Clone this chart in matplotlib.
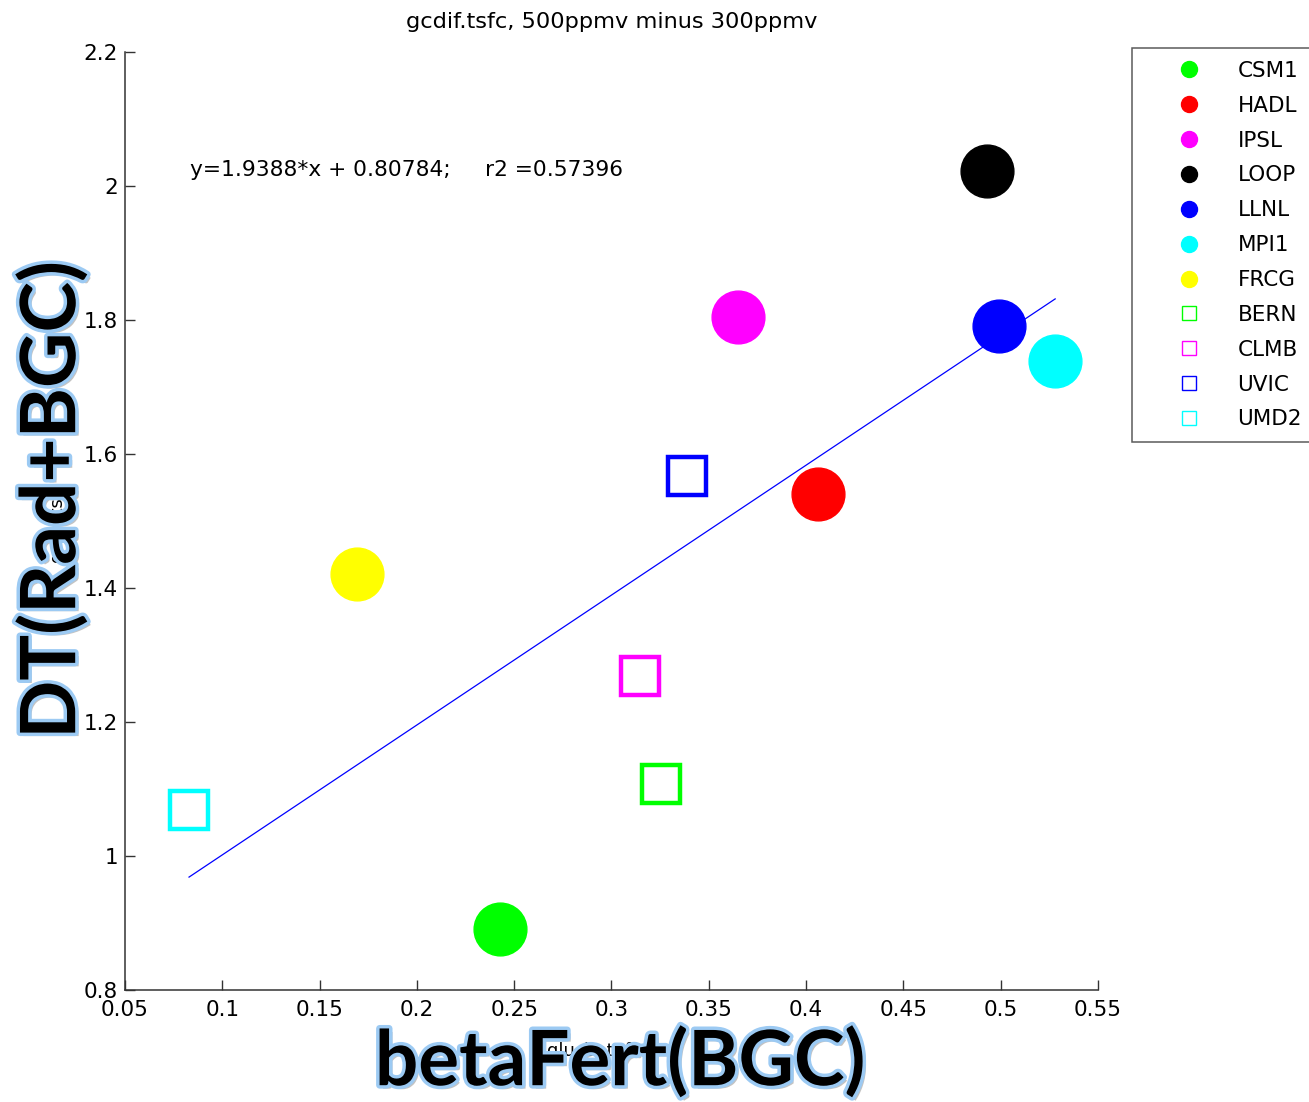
import numpy as np
import matplotlib
matplotlib.use('Agg')
import matplotlib.pyplot as plt
from matplotlib.lines import Line2D
import matplotlib.patheffects as pe

plt.rcParams['font.family'] = ['DejaVu Sans']

# Model results: beta fertilisation vs surface temperature change
models = ['CSM1', 'HADL', 'IPSL', 'LOOP', 'LLNL', 'MPI1', 'FRCG',
          'BERN', 'CLMB', 'UVIC', 'UMD2']
beta_fert = [0.2427, 0.4061, 0.365, 0.493, 0.499, 0.528, 0.169,
             0.3254, 0.3146, 0.339, 0.0829]
dt_sfc = [0.891, 1.540, 1.804, 2.022, 1.791, 1.739, 1.421,
          1.107, 1.269, 1.567, 1.069]
colors = ['#00ff00', '#ff0000', '#ff00ff', '#000000', '#0000ff', '#00ffff', '#ffff00',
          '#00ff00', '#ff00ff', '#0000ff', '#00ffff']
markers = ['o'] * 7 + ['s'] * 4

# Linear fit coefficients
slope = 1.9388
intercept = 0.80784
r2 = 0.57396

fig = plt.figure(figsize=(13.09, 11.02), dpi=100)
ax = fig.add_axes([0.0955, 0.1016, 0.7433, 0.8512])

handles = []
for x, y, c, m, name in zip(beta_fert, dt_sfc, colors, markers, models):
    if m == 'o':
        ax.plot(x, y, 'o', ms=38, mfc=c, mec=c, zorder=3)
        handles.append(Line2D([], [], ls='none', marker='o', ms=11.5, mfc=c, mec=c, label=name))
    else:
        ax.plot(x, y, 's', ms=27, mfc='none', mec=c, mew=3.2, zorder=3)
        handles.append(Line2D([], [], ls='none', marker='s', ms=10, mfc='none', mec=c, mew=1, label=name))

xfit = np.array([min(beta_fert), max(beta_fert)])
ax.plot(xfit, slope * xfit + intercept, color='#0000ff', lw=0.9, zorder=2)

ax.text(0.0834, 2.024, 'y=%.4f*x + %.5f;     r2 =%.5f' % (slope, intercept, r2),
        fontsize=15.7, va='center', ha='left')

ax.set_xlim(0.05, 0.55)
ax.set_ylim(0.8, 2.2)
ax.set_xticks(np.arange(0.05, 0.551, 0.05))
ax.set_xticklabels(['0.05', '0.1', '0.15', '0.2', '0.25', '0.3', '0.35', '0.4', '0.45', '0.5', '0.55'])
ax.set_yticks(np.arange(0.8, 2.21, 0.2))
ax.set_yticklabels(['0.8', '1', '1.2', '1.4', '1.6', '1.8', '2', '2.2'])
ax.tick_params(direction='in', length=7, width=1, labelsize=15.5, color='#333333', pad=5)
ax.tick_params(axis='x', pad=7)
for side in ('top', 'right'):
    ax.spines[side].set_visible(False)
for side in ('left', 'bottom'):
    ax.spines[side].set_color('#333333')
    ax.spines[side].set_linewidth(1.1)

ax.set_title('gcdif.tsfc, 500ppmv minus 300ppmv', fontsize=16.2, pad=17)

# original small axis labels, sitting under the large ones
ax.text(-0.07, 0.5, 'gcdif.tsfc', transform=ax.transAxes, rotation=90,
        fontsize=13, ha='center', va='center')
ax.text(0.49, -0.065, 'glu_betafert', transform=ax.transAxes,
        fontsize=13, ha='center', va='center')

leg = fig.legend(handles=handles, loc='upper left', bbox_to_anchor=(1132 / 1309, 1 - 48 / 1102),
                 frameon=True, fancybox=False, edgecolor='#333333', fontsize=15.5,
                 handlelength=4.1, handletextpad=0.2, labelspacing=0.69, borderpad=0.6,
                 borderaxespad=0)
leg.get_frame().set_linewidth(1.1)

# large overlaid axis titles
big_fx = [pe.SimplePatchShadow(offset=(2.5, -2.5), shadow_rgbFace='#888888', alpha=0.5),
          pe.withStroke(linewidth=5, foreground='#9ccaf3')]
fig.text(52 / 1309, 1 - 500 / 1102, 'DT(Rad+BGC)', rotation=90, fontsize=55,
         family='Lato', weight='bold', color='#000000', ha='center', va='center',
         path_effects=big_fx)
fig.text(620 / 1309, 1 - 1062 / 1102, 'betaFert(BGC)', fontsize=55,
         family='Lato', weight='bold', color='#000000', ha='center', va='center',
         path_effects=big_fx)

fig.savefig('out.png', dpi=100)
